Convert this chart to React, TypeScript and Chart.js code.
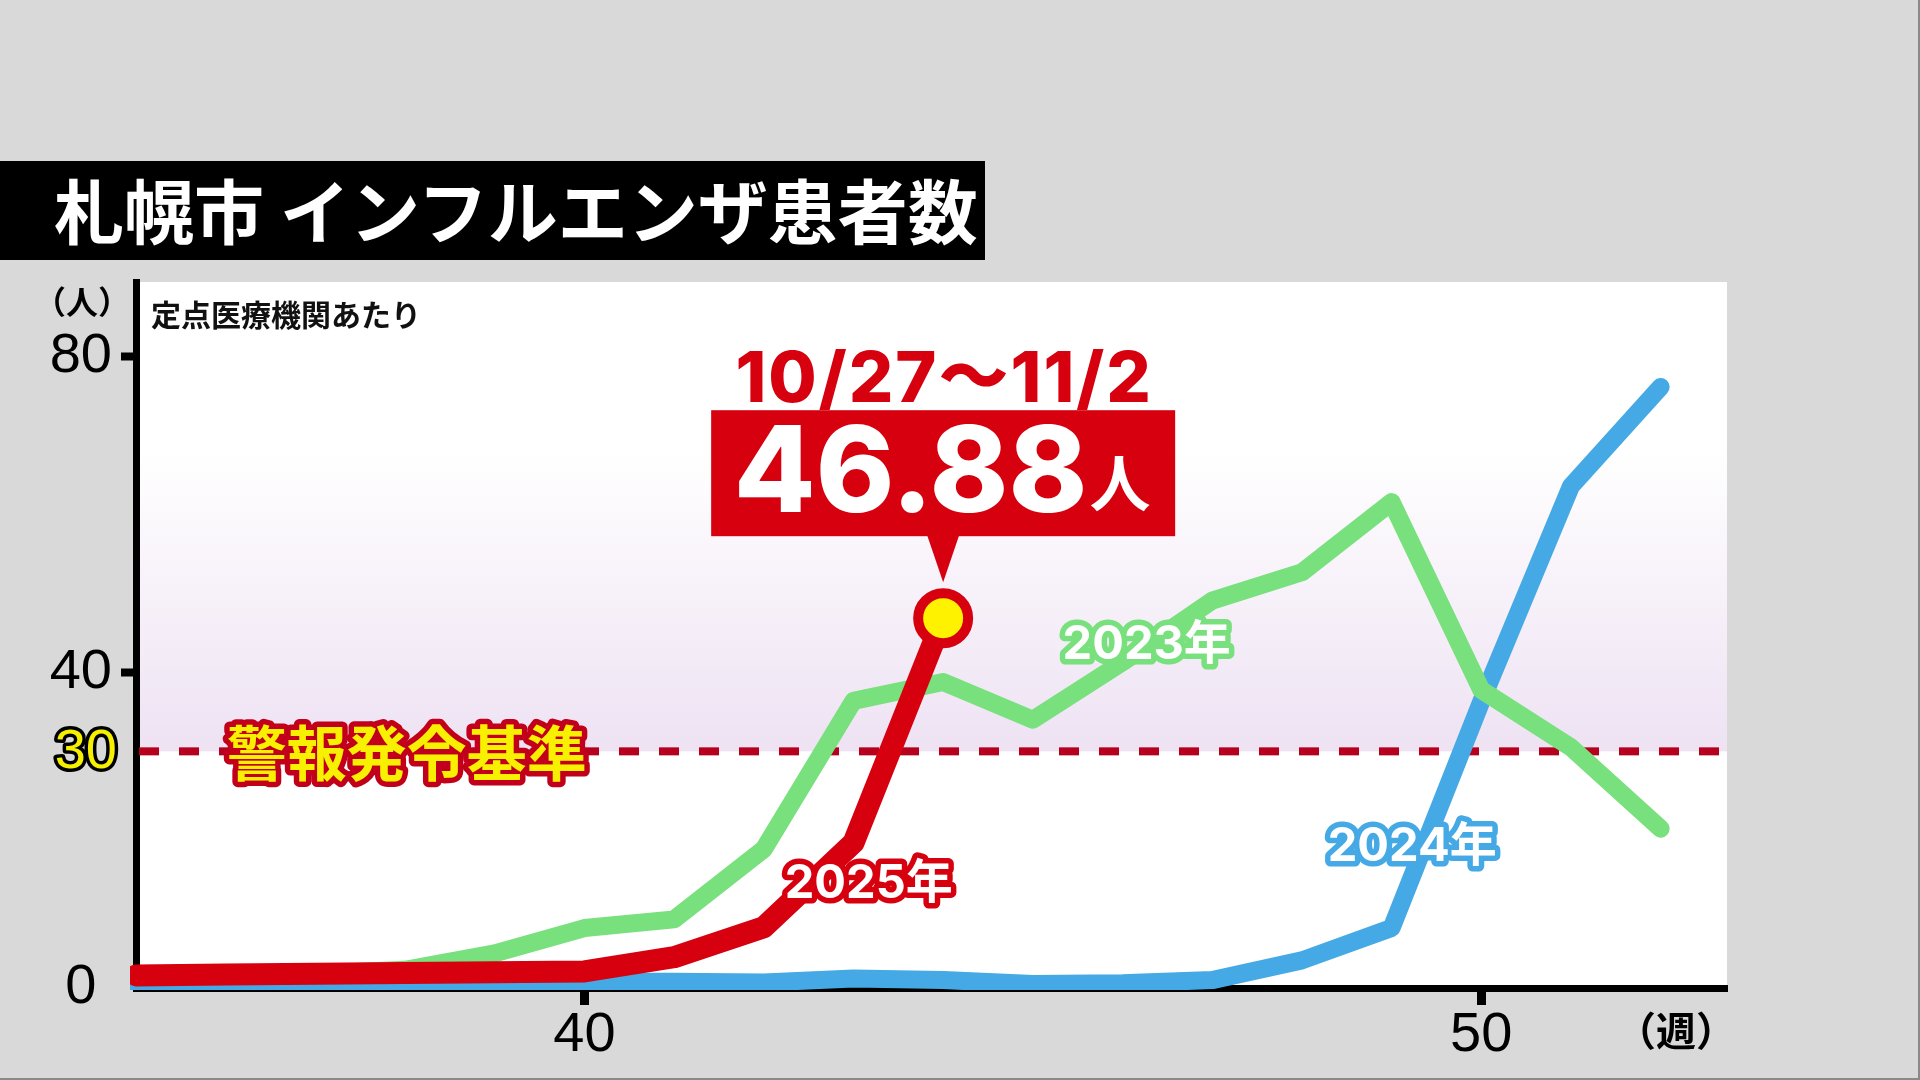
import React, { useEffect, useRef } from "react";
import { Chart, registerables } from "chart.js";

Chart.register(...registerables);

// ---- data ----
const weeks = [35, 36, 37, 38, 39, 40, 41, 42, 43, 44, 45, 46, 47, 48, 49, 50, 51, 52];
const cases2025 = [1.6, 1.7, 1.8, 1.9, 2.0, 2.1, 3.9, 7.7, 18.4, 46.88];
const cases2023 = [1.6, 1.7, 1.8, 2.3, 4.4, 7.6, 8.7, 17.6, 36.4, 38.8, 34.0, 41.3, 49.1, 52.7, 61.6, 37.8, 30.5, 20.2];
const cases2024 = [0.5, 0.5, 0.5, 0.5, 0.6, 0.8, 0.8, 0.7, 1.2, 1.0, 0.5, 0.6, 1.0, 3.5, 7.6, 36.3, 63.6, 76.2];
const seriesNames = ["2025年", "2023年", "2024年"];
const xTickValues = [40, 50];
const yTickValues = [0, 40, 80];
const alertLevel = 30;
const alertLabel = "警報発令基準";
const latestRange = "10/27～11/2";
const titleText = "札幌市 インフルエンザ患者数";
const noteText = "定点医療機関あたり";
const yUnit = "（人）";
const xUnit = "（週）";

// ---- style ----
const RED = "#d7000f";
const GREEN = "#78e07c";
const BLUE = "#44a9e4";
const GRAY = "#d9d9d9";
const NUM_FONT = '"Liberation Sans", Arial, sans-serif';
const JP = '"Noto Sans CJK JP", sans-serif';

function outlinedText(
  ctx: CanvasRenderingContext2D,
  text: string,
  x: number,
  y: number,
  font: string,
  fill: string,
  stroke: string,
  lw: number,
  align: CanvasTextAlign = "center"
) {
  ctx.save();
  ctx.font = font;
  ctx.textAlign = align;
  ctx.textBaseline = "middle";
  ctx.lineJoin = "round";
  ctx.lineWidth = lw;
  ctx.strokeStyle = stroke;
  ctx.strokeText(text, x, y);
  ctx.fillStyle = fill;
  ctx.fillText(text, x, y);
  ctx.restore();
}

const decorPlugin = {
  id: "decor",
  beforeDraw(chart: any) {
    const { ctx, chartArea: a, scales } = chart;
    ctx.save();
    ctx.fillStyle = GRAY;
    ctx.fillRect(0, 0, chart.width, chart.height);
    ctx.fillStyle = "#ffffff";
    ctx.fillRect(a.left, a.top, a.right - a.left, a.bottom - a.top);
    const y30 = scales.y.getPixelForValue(alertLevel);
    const yTop = scales.y.getPixelForValue(68);
    const g = ctx.createLinearGradient(0, yTop, 0, y30);
    g.addColorStop(0, "rgba(238,226,243,0)");
    g.addColorStop(1, "rgba(238,226,243,1)");
    ctx.fillStyle = g;
    ctx.fillRect(a.left, yTop, a.right - a.left, y30 - yTop);
    ctx.restore();
  },
  beforeDatasetsDraw(chart: any) {
    const { ctx, chartArea: a, scales } = chart;
    const y30 = scales.y.getPixelForValue(alertLevel);
    ctx.save();
    ctx.strokeStyle = "#b5001e";
    ctx.lineWidth = 8;
    ctx.setLineDash([20, 20]);
    ctx.beginPath();
    ctx.moveTo(a.left + 3, y30);
    ctx.lineTo(a.right - 6, y30);
    ctx.stroke();
    ctx.restore();
  },
  afterDraw(chart: any) {
    const { ctx, scales } = chart;
    const x = scales.x;
    const y = scales.y;
    const y30 = y.getPixelForValue(alertLevel);

    // alert level label + yellow 30
    outlinedText(ctx, alertLabel, x.getPixelForValue(38.02), y30 + 2, `700 60px ${JP}`, "#f7f000", "#c3001b", 11);
    outlinedText(ctx, String(alertLevel), 117, y30 + 1, `56px ${NUM_FONT}`, "#f5f000", "#000000", 7, "right");

    // series labels
    const lblFont = `700 47px Inter, ${JP}`;
    outlinedText(ctx, seriesNames[1], x.getPixelForValue(46.27), y.getPixelForValue(43.5), lblFont, "#ffffff", GREEN, 11);
    outlinedText(ctx, seriesNames[0], x.getPixelForValue(43.17), y.getPixelForValue(13.2), lblFont, "#ffffff", RED, 11);
    outlinedText(ctx, seriesNames[2], x.getPixelForValue(49.23), y.getPixelForValue(17.9), lblFont, "#ffffff", BLUE, 11);

    // callout for latest value
    const li = cases2025.length - 1;
    const px = x.getPixelForValue(weeks[li]);
    const py = y.getPixelForValue(cases2025[li]);
    const boxW = 464;
    const boxH = 126;
    const boxBottom = py - 82;
    ctx.save();
    ctx.fillStyle = RED;
    ctx.fillRect(px - boxW / 2, boxBottom - boxH, boxW, boxH);
    ctx.beginPath();
    ctx.moveTo(px - 16, boxBottom - 1);
    ctx.lineTo(px + 16, boxBottom - 1);
    ctx.lineTo(px, py - 36);
    ctx.closePath();
    ctx.fill();

    ctx.font = `800 70px Inter, ${JP}`;
    (ctx as any).letterSpacing = "2px";
    ctx.textAlign = "center";
    ctx.textBaseline = "alphabetic";
    ctx.fillText(latestRange, px + 1, boxBottom - boxH - 8);
    (ctx as any).letterSpacing = "0px";

    const valText = cases2025[li].toFixed(2);
    ctx.fillStyle = "#ffffff";
    const digFont = `800 119px Inter, sans-serif`;
    const unitFont = `700 61px ${JP}`;
    ctx.font = digFont;
    const w1 = ctx.measureText(valText).width;
    ctx.font = unitFont;
    const w2 = ctx.measureText("人").width;
    const startX = px - (w1 + w2) / 2 - 2;
    ctx.textAlign = "left";
    ctx.font = digFont;
    ctx.fillText(valText, startX, boxBottom - 24);
    ctx.font = unitFont;
    ctx.fillText("人", startX + w1 + 2, boxBottom - 29);

    // frame edge lines
    ctx.fillStyle = "#8a8a8a";
    ctx.fillRect(0, chart.height - 2, chart.width, 2);
    ctx.fillRect(chart.width - 2, 0, 2, chart.height);
    ctx.restore();
  },
};

export default function App() {
  const ref = useRef<HTMLCanvasElement | null>(null);

  useEffect(() => {
    if (!ref.current) return;
    const lastIdx = cases2025.length - 1;
    const clip = { left: 6, right: 20, top: 20, bottom: 2 };
    const chart = new Chart(ref.current, {
      type: "line",
      data: {
        datasets: [
          {
            label: seriesNames[0],
            data: cases2025.map((v, i) => ({ x: weeks[i], y: v })),
            borderColor: RED,
            borderWidth: 22,
            borderCapStyle: "round",
            borderJoinStyle: "round",
            pointRadius: (c: any) => (c.dataIndex === lastIdx ? 25 : 0),
            pointBackgroundColor: "#fff200",
            pointBorderColor: RED,
            pointBorderWidth: 10,
            tension: 0,
            clip,
          },
          {
            label: seriesNames[1],
            data: cases2023.map((v, i) => ({ x: weeks[i], y: v })),
            borderColor: GREEN,
            borderWidth: 18,
            borderCapStyle: "round",
            borderJoinStyle: "round",
            pointRadius: 0,
            tension: 0,
            clip,
          },
          {
            label: seriesNames[2],
            data: cases2024.map((v, i) => ({ x: weeks[i], y: v })),
            borderColor: BLUE,
            borderWidth: 18,
            borderCapStyle: "round",
            borderJoinStyle: "round",
            pointRadius: 0,
            tension: 0,
            clip,
          },
        ],
      },
      options: {
        responsive: false,
        maintainAspectRatio: false,
        devicePixelRatio: 1,
        animation: false,
        layout: { padding: { left: 0, top: 282, right: 193, bottom: 0 } },
        plugins: { legend: { display: false }, tooltip: { enabled: false } },
        events: [],
        scales: {
          x: {
            type: "linear",
            min: 35,
            max: 52.74,
            z: 1,
            afterFit: (s: any) => {
              s.height = 92;
            },
            afterBuildTicks: (s: any) => {
              s.ticks = xTickValues.map((v) => ({ value: v }));
            },
            border: { display: true, color: "#000", width: 7 },
            grid: {
              drawOnChartArea: false,
              drawTicks: true,
              tickLength: 17,
              tickWidth: 9,
              tickColor: "#000",
            },
            ticks: {
              color: "#000",
              font: { family: NUM_FONT, size: 56 },
              padding: -3,
              maxRotation: 0,
              callback: (v: any) => String(v),
            },
          },
          y: {
            type: "linear",
            min: 0,
            max: 89.5,
            z: 0,
            afterFit: (s: any) => {
              s.width = 136;
            },
            afterBuildTicks: (s: any) => {
              s.ticks = yTickValues.map((v) => ({ value: v }));
            },
            border: { display: true, color: "#000", width: 7 },
            grid: {
              drawOnChartArea: false,
              drawTicks: true,
              tickLength: 15,
              tickWidth: 8,
              tickColor: (c: any) => (c.tick && c.tick.value === 0 ? "rgba(0,0,0,0)" : "#000"),
            },
            ticks: {
              color: "#000",
              font: { family: NUM_FONT, size: 56 },
              padding: 9,
              callback: (v: any) => (v === 0 ? "0 " : String(v)),
            },
          },
        },
      },
      plugins: [decorPlugin],
    } as any);
    return () => chart.destroy();
  }, []);

  return (
    <div
      style={{
        position: "absolute",
        left: 0,
        top: 0,
        width: 1920,
        height: 1080,
        background: GRAY,
        overflow: "hidden",
      }}
    >
      <canvas
        ref={ref}
        width={1920}
        height={1080}
        style={{ position: "absolute", left: 0, top: 0, width: 1920, height: 1080 }}
      />
      <div
        style={{
          position: "absolute",
          left: 0,
          top: 161,
          width: 985,
          height: 99,
          background: "#000",
          color: "#fff",
          display: "flex",
          alignItems: "center",
          paddingLeft: 54,
          paddingBottom: 4,
          boxSizing: "border-box",
          fontFamily: JP,
          fontWeight: 700,
          fontSize: 70,
          lineHeight: 1,
          whiteSpace: "nowrap",
        }}
      >
        {titleText}
      </div>
      <div
        style={{
          position: "absolute",
          left: 22,
          top: 300 - 17,
          width: 120,
          textAlign: "center",
          fontFamily: JP,
          fontWeight: 700,
          fontSize: 32,
          lineHeight: "34px",
          color: "#000",
          whiteSpace: "nowrap",
        }}
      >
        {yUnit}
      </div>
      <div
        style={{
          position: "absolute",
          left: 151,
          top: 313 - 16,
          fontFamily: JP,
          fontWeight: 700,
          fontSize: 30,
          lineHeight: "32px",
          color: "#111",
          whiteSpace: "nowrap",
        }}
      >
        {noteText}
      </div>
      <div
        style={{
          position: "absolute",
          left: 1676 - 80,
          top: 1029 - 21,
          width: 160,
          textAlign: "center",
          fontFamily: JP,
          fontWeight: 700,
          fontSize: 40,
          lineHeight: "42px",
          color: "#000",
          whiteSpace: "nowrap",
        }}
      >
        {xUnit}
      </div>
    </div>
  );
}
